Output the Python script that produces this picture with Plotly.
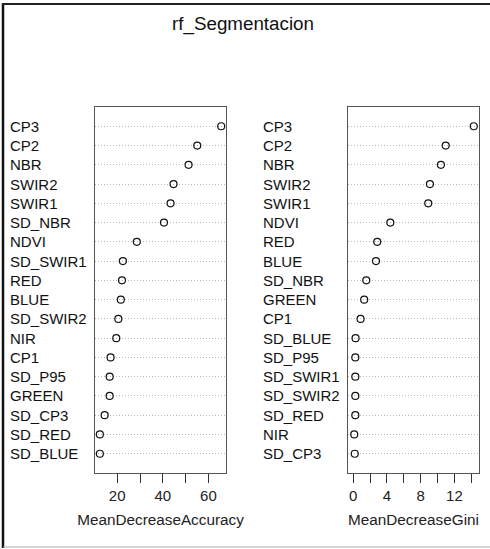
import plotly.graph_objects as go

acc_vars = ["CP3", "CP2", "NBR", "SWIR2", "SWIR1", "SD_NBR", "NDVI", "SD_SWIR1", "RED",
            "BLUE", "SD_SWIR2", "NIR", "CP1", "SD_P95", "GREEN", "SD_CP3", "SD_RED", "SD_BLUE"]
acc_vals = [65.6, 55.1, 51.3, 44.7, 43.4, 40.5, 28.6, 22.5, 22.1,
            21.6, 20.5, 19.6, 17.1, 16.7, 16.7, 14.5, 12.4, 12.4]

gini_vars = ["CP3", "CP2", "NBR", "SWIR2", "SWIR1", "NDVI", "RED", "BLUE", "SD_NBR",
             "GREEN", "CP1", "SD_BLUE", "SD_P95", "SD_SWIR1", "SD_SWIR2", "SD_RED", "NIR", "SD_CP3"]
gini_vals = [14.3, 10.97, 10.4, 9.1, 8.9, 4.4, 2.85, 2.7, 1.55,
             1.3, 0.87, 0.28, 0.25, 0.25, 0.25, 0.25, 0.12, 0.18]

title_text = "rf_Segmentacion"
acc_title = "MeanDecreaseAccuracy"
gini_title = "MeanDecreaseGini"

W, H = 490, 549
FONT = "Liberation Sans, Arial, sans-serif"

def px_x(p):
    return p / W

def px_y(p):
    return 1 - p / H

fig = go.Figure()

marker = dict(symbol="circle-open", size=7, color="#111", line=dict(width=1.2, color="#111"))

fig.add_trace(go.Scatter(x=acc_vals, y=acc_vars, mode="markers", marker=marker,
                         xaxis="x", yaxis="y", showlegend=False, hoverinfo="skip"))
fig.add_trace(go.Scatter(x=gini_vals, y=gini_vars, mode="markers", marker=marker,
                         xaxis="x2", yaxis="y2", showlegend=False, hoverinfo="skip"))

n = len(acc_vars)
common_x = dict(showline=True, mirror=True, linecolor="#555", linewidth=1,
                ticks="outside", ticklen=9, tickcolor="#333", tickwidth=1,
                showgrid=False, zeroline=False,
                tickfont=dict(family=FONT, size=15, color="#222"),
                title_font=dict(family=FONT, size=15.3, color="#222"),
                title_standoff=11)
common_y = dict(showline=True, mirror=True, linecolor="#555", linewidth=1,
                showticklabels=False, ticks="", type="category",
                showgrid=True, gridcolor="#b8b8b8", griddash="1px,2px", gridwidth=1,
                zeroline=False, range=[n, -1])

fig.update_layout(
    width=W, height=H,
    margin=dict(l=0, r=0, t=0, b=0),
    paper_bgcolor="white", plot_bgcolor="white",
    xaxis=dict(domain=[px_x(95), px_x(226)], range=[10.27, 67.7],
               tickvals=[20, 40, 60], minor=dict(dtick=10, tick0=0, ticklen=9, ticks="outside", tickcolor="#333"),
               title=dict(text=acc_title), anchor="y", **common_x),
    yaxis=dict(domain=[px_y(473), px_y(107)], categoryorder="array", categoryarray=acc_vars,
               anchor="x", **common_y),
    xaxis2=dict(domain=[px_x(348), px_x(479)], range=[-0.62, 14.92],
                tickvals=[0, 4, 8, 12], minor=dict(dtick=2, tick0=0, ticklen=9, ticks="outside", tickcolor="#333"),
                title=dict(text=gini_title), anchor="y2", **common_x),
    yaxis2=dict(domain=[px_y(473), px_y(107)], categoryorder="array", categoryarray=gini_vars,
                anchor="x2", **common_y),
)

annotations = []
for v in acc_vars:
    annotations.append(dict(x=px_x(8), xref="paper", y=v, yref="y", text=v, showarrow=False,
                            xanchor="left", yanchor="middle",
                            font=dict(family=FONT, size=15, color="#111")))
for v in gini_vars:
    annotations.append(dict(x=px_x(261), xref="paper", y=v, yref="y2", text=v, showarrow=False,
                            xanchor="left", yanchor="middle",
                            font=dict(family=FONT, size=15, color="#111")))
annotations.append(dict(x=px_x(243), xref="paper", y=px_y(24), yref="paper", text=title_text,
                        showarrow=False, xanchor="center", yanchor="middle",
                        font=dict(family=FONT, size=18.8, color="#111")))
fig.update_layout(annotations=annotations)

fig.update_layout(shapes=[
    dict(type="line", xref="paper", yref="paper", x0=px_x(3), x1=px_x(3), y0=px_y(3), y1=px_y(548),
         line=dict(color="#111", width=2.5)),
    dict(type="line", xref="paper", yref="paper", x0=px_x(2), x1=1, y0=px_y(4), y1=px_y(4),
         line=dict(color="#222", width=2)),
    dict(type="line", xref="paper", yref="paper", x0=px_x(3), x1=1, y0=px_y(547), y1=px_y(547),
         line=dict(color="#aaa", width=1)),
])

fig.write_html("out.html", config={"displayModeBar": False},
               post_script="document.body.style.margin='0';document.body.style.overflow='hidden';")
